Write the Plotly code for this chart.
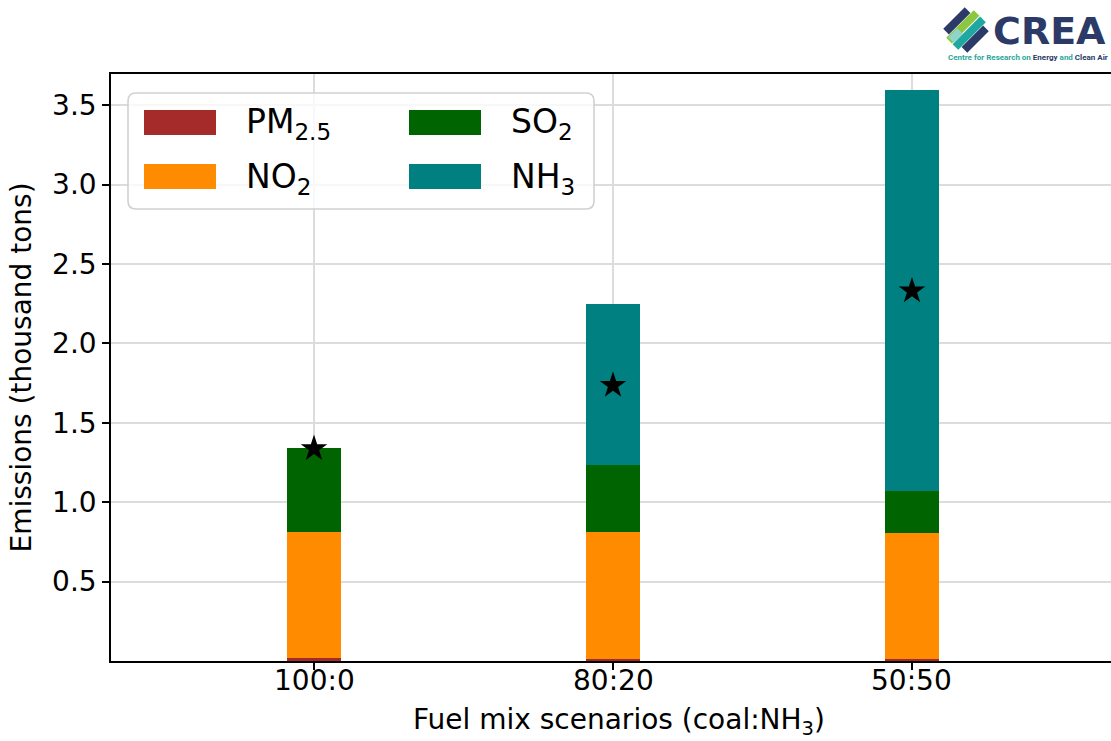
import plotly.graph_objects as go

# ---------------- data ----------------
scenarios = ["100:0", "80:20", "50:50"]
pm25 = [0.020, 0.014, 0.010]
no2 = [0.793, 0.799, 0.797]
so2 = [0.529, 0.422, 0.264]
nh3 = [0.0, 1.015, 2.528]
star_values = [1.338, 1.736, 2.331]

series_names = ["PM<sub>2.5</sub>", "NO<sub>2</sub>", "SO<sub>2</sub>", "NH<sub>3</sub>"]
series_colors = ["#a52a2a", "#ff8c00", "#006400", "#008080"]
series_values = [pm25, no2, so2, nh3]

y_ticks = [0.5, 1.0, 1.5, 2.0, 2.5, 3.0, 3.5]
y_tick_labels = ["0.5", "1.0", "1.5", "2.0", "2.5", "3.0", "3.5"]

# ---------------- layout helpers ----------------
W, H = 1111, 741
ML, MR, MT, MB = 111, 0, 74, 80
PW, PH = W - ML - MR, H - MT - MB
FONT = "DejaVu Sans"


def px(x):
    return (x - ML) / PW


def py(y):
    return (H - MB - y) / PH


x_idx = list(range(len(scenarios)))

fig = go.Figure()
for name, color, vals in zip(series_names, series_colors, series_values):
    fig.add_trace(go.Bar(
        x=x_idx, y=vals, name=name, width=0.18,
        marker=dict(color=color, line=dict(width=0)),
        showlegend=False,
    ))

fig.add_trace(go.Scatter(
    x=x_idx, y=star_values, mode="markers",
    marker=dict(symbol="star", size=20, color="black", line=dict(width=0)),
    showlegend=False,
))

shapes = []
annotations = []

# ---- custom legend (matplotlib style) ----
bx0, bx1, by0, by1 = px(128), px(594), py(209), py(93)
rx, ry = 8 / PW, 8 / PH
path = (f"M{bx0+rx},{by1} L{bx1-rx},{by1} Q{bx1},{by1} {bx1},{by1-ry} "
        f"L{bx1},{by0+ry} Q{bx1},{by0} {bx1-rx},{by0} L{bx0+rx},{by0} "
        f"Q{bx0},{by0} {bx0},{by0+ry} L{bx0},{by1-ry} Q{bx0},{by1} {bx0+rx},{by1} Z")
shapes.append(dict(type="path", path=path, xref="paper", yref="paper",
                   fillcolor="rgba(255,255,255,0.8)",
                   line=dict(color="rgba(204,204,204,0.9)", width=1.6), layer="above"))

col_sw_x = [144, 409]
col_tx_x = [244, 509]
row_y = [122.5, 176.5]
for i, (name, color) in enumerate(zip(series_names, series_colors)):
    c, r = i // 2, i % 2
    sx = col_sw_x[c]
    cy = row_y[r]
    shapes.append(dict(type="rect", xref="paper", yref="paper",
                       x0=px(sx), x1=px(sx + 72), y0=py(cy + 12.5), y1=py(cy - 12.5),
                       fillcolor=color, line=dict(width=0), layer="above"))
    annotations.append(dict(text=name, x=px(col_tx_x[c]), y=py(cy + 1.5), xref="paper", yref="paper",
                            xanchor="left", yanchor="middle", showarrow=False,
                            font=dict(family=FONT, size=33, color="black")))

# ---- x tick labels (placed through the x axis scale) ----
for xi, lab in zip(x_idx, scenarios):
    annotations.append(dict(text=lab, x=xi, y=py(680), xref="x", yref="paper",
                            xanchor="center", yanchor="middle", showarrow=False,
                            font=dict(family=FONT, size=28, color="black")))

# ---- x axis title ----
annotations.append(dict(text="Fuel mix scenarios (coal:NH<sub>3</sub>)",
                        x=px(619), y=py(721), xref="paper", yref="paper",
                        xanchor="center", yanchor="middle", showarrow=False,
                        font=dict(family=FONT, size=28, color="black")))

# ---- CREA logo ----
cx, cy, R = 966, 30, 20
stripes = [(-13, "#2b3a67"), (-4.5, "#8dc63f"), (4.5, "#1fa89f"), (13, "#2b3a67")]
d1 = (0.7071, 0.7071)
d2 = (0.7071, -0.7071)
for o, col in stripes:
    L = max((R ** 2 - o ** 2), 0) ** 0.5
    x0 = cx + o * d1[0] - L * d2[0]
    y0 = cy + o * d1[1] - L * d2[1]
    x1 = cx + o * d1[0] + L * d2[0]
    y1 = cy + o * d1[1] + L * d2[1]
    shapes.append(dict(type="line", xref="paper", yref="paper",
                       x0=px(x0), y0=py(y0), x1=px(x1), y1=py(y1),
                       line=dict(color=col, width=8)))
shapes.append(dict(type="line", xref="paper", yref="paper",
                   x0=px(951), y0=py(40), x1=px(960), y1=py(31),
                   line=dict(color="#8fd3c9", width=8)))

annotations.append(dict(text="<b>CREA</b>", x=px(1049), y=py(31), xref="paper", yref="paper",
                        xanchor="center", yanchor="middle", showarrow=False,
                        font=dict(family=FONT, size=38, color="#2b3a67")))
annotations.append(dict(
    text=('<b><span style="color:#2aa79b">Centre for Research on </span>'
          '<span style="color:#2b3a67">Energy</span>'
          '<span style="color:#2aa79b"> and </span>'
          '<span style="color:#2b3a67">Clean Air</span></b>'),
    x=px(1028), y=py(57), xref="paper", yref="paper",
    xanchor="center", yanchor="middle", showarrow=False,
    font=dict(family="Roboto", size=8, color="#2b3a67")))

fig.update_layout(
    width=W, height=H,
    margin=dict(l=ML, r=MR, t=MT, b=MB, pad=0),
    paper_bgcolor="white", plot_bgcolor="white",
    barmode="stack", bargap=0,
    font=dict(family=FONT, size=28, color="black"),
    shapes=shapes, annotations=annotations,
    showlegend=False,
)

fig.update_xaxes(
    range=[-0.679, 2.6656],
    tickmode="array", tickvals=x_idx, ticktext=scenarios, showticklabels=False,
    showgrid=True, gridcolor="#dcdcdc", gridwidth=1.6,
    showline=True, linecolor="black", linewidth=1.6, mirror=True,
    ticks="outside", ticklen=7, tickwidth=1.6, tickcolor="black",
    zeroline=False,
)
fig.update_yaxes(
    range=[0, 3.697],
    tickmode="array", tickvals=y_ticks, ticktext=y_tick_labels,
    showgrid=True, gridcolor="#dcdcdc", gridwidth=1.6,
    showline=True, linecolor="black", linewidth=1.6, mirror=False,
    ticks="outside", ticklen=7, tickwidth=1.6, tickcolor="black",
    tickfont=dict(family=FONT, size=28, color="black"),
    zeroline=False,
    title=dict(text="Emissions (thousand tons)",
               font=dict(family=FONT, size=28, color="black"), standoff=12),
)

fig.write_html("out.html", config={"displayModeBar": False},
               post_script="document.body.style.margin='0';document.body.style.overflow='hidden';")
